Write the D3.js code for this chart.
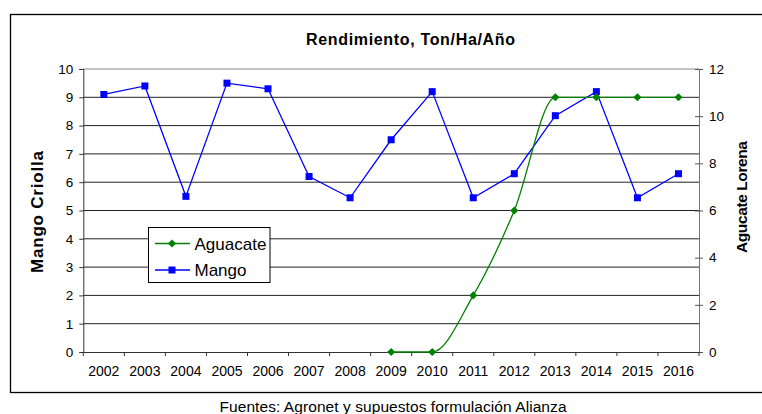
<!DOCTYPE html>
<html>
<head>
<meta charset="utf-8">
<script src="https://cdn.jsdelivr.net/npm/d3@7"></script>
<style>
  body { margin: 0; background: #fff; }
  text { font-family: "Liberation Sans", Arial, sans-serif; fill: #000; }
</style>
</head>
<body>
<script>
const years = ['2002','2003','2004','2005','2006','2007','2008','2009','2010','2011','2012','2013','2014','2015','2016']
const mango = [9.1, 9.4, 5.5, 9.5, 9.3, 6.2, 5.45, 7.5, 9.2, 5.45, 6.3, 8.35, 9.2, 5.45, 6.3]
const aguacate = [null, null, null, null, null, null, null, 0, 0, 2.4, 6, 10.8, 10.8, 10.8, 10.8]
const leftTicks = [0,1,2,3,4,5,6,7,8,9,10]
const rightTicks = [0,2,4,6,8,10,12]

const w = 762;
const h = 414;
const plotLeft = 83.3, plotRight = 699, plotTop = 69, plotBottom = 352;

const svg = d3.select("body")
  .append("svg")
  .attr("width", w)
  .attr("height", h);

// outer chart border (runs off the right edge like the original)
svg.append("rect")
  .attr("x", 10.5).attr("y", 14.5)
  .attr("width", 770).attr("height", 378)
  .attr("fill", "none")
  .attr("stroke", "#000")
  .attr("stroke-width", 1.3);

const xScale = d3.scaleBand().domain(years).range([plotLeft, plotRight]);
const yLeft = d3.scaleLinear().domain([0, 10]).range([plotBottom, plotTop]);
const yRight = d3.scaleLinear().domain([0, 12]).range([plotBottom, plotTop]);
const cx = (d) => xScale(d) + xScale.bandwidth() / 2;

// gridlines from the left axis
svg.append("g")
  .selectAll("line")
  .data(leftTicks.filter(d => d > 0))
  .enter()
  .append("line")
  .attr("x1", plotLeft).attr("x2", plotRight)
  .attr("y1", d => yLeft(d)).attr("y2", d => yLeft(d))
  .attr("stroke", d => d === 10 ? "#888" : "#222")
  .attr("stroke-width", 1);

// left axis
const gl = svg.append("g")
  .attr("transform", `translate(${plotLeft},0)`)
  .call(d3.axisLeft(yLeft).tickValues(leftTicks).tickSize(4).tickPadding(6));
gl.select(".domain").attr("stroke", "#333");
gl.selectAll(".tick line").attr("stroke", "#333");
gl.selectAll("text").style("font-size", "13.5px").attr("fill", "#000");

// right axis, ticks cross the line
const gr = svg.append("g")
  .attr("transform", `translate(${plotRight},0)`)
  .call(d3.axisRight(yRight).tickValues(rightTicks).tickSize(4).tickPadding(6));
gr.select(".domain").attr("stroke", "#777");
gr.selectAll(".tick line").attr("x1", -4).attr("stroke", "#555");
gr.selectAll("text").style("font-size", "13.5px").attr("fill", "#000");

// bottom axis: labels at centres, ticks between categories
const gx = svg.append("g")
  .attr("transform", `translate(0,${plotBottom})`)
  .call(d3.axisBottom(xScale).tickSize(0).tickPadding(14));
gx.select(".domain").attr("stroke", "#333");
gx.selectAll("text").style("font-size", "14px").attr("fill", "#000");
gx.selectAll(".bound")
  .data(years.map(d => xScale(d)).concat([plotRight]))
  .enter()
  .append("line")
  .attr("class", "bound")
  .attr("x1", d => d).attr("x2", d => d)
  .attr("y1", 0).attr("y2", 4)
  .attr("stroke", "#333");

// mango series
const mangoData = years.map((y, i) => [y, mango[i]]);
svg.append("path")
  .datum(mangoData)
  .attr("fill", "none")
  .attr("stroke", "#0000ff")
  .attr("stroke-width", 1.3)
  .attr("d", d3.line().x(d => cx(d[0])).y(d => yLeft(d[1])));

svg.selectAll(".sq")
  .data(mangoData)
  .enter()
  .append("rect")
  .attr("class", "sq")
  .attr("x", d => cx(d[0]) - 3.5)
  .attr("y", d => yLeft(d[1]) - 3.5)
  .attr("width", 7).attr("height", 7)
  .attr("fill", "#0000ff");

// aguacate series (smoothed line, no overshoot)
const aguaData = years.map((y, i) => [y, aguacate[i]]).filter(d => d[1] !== null);
svg.append("path")
  .datum(aguaData)
  .attr("fill", "none")
  .attr("stroke", "#008000")
  .attr("stroke-width", 1.3)
  .attr("d", d3.line().curve(d3.curveMonotoneX).x(d => cx(d[0])).y(d => yRight(d[1])));

const diamond = d3.symbol().type(d3.symbolDiamond2).size(42);
svg.selectAll(".dm")
  .data(aguaData)
  .enter()
  .append("path")
  .attr("class", "dm")
  .attr("transform", d => `translate(${cx(d[0])},${yRight(d[1])})`)
  .attr("d", diamond)
  .attr("fill", "#008000");

// titles
svg.append("text")
  .attr("x", 410.5).attr("y", 44.5)
  .attr("text-anchor", "middle")
  .style("font-size", "16px").style("font-weight", "bold")
  .attr("textLength", 209)
  .text("Rendimiento, Ton/Ha/Año");

svg.append("text")
  .attr("text-anchor", "middle")
  .attr("transform", "translate(43,212)rotate(-90)")
  .style("font-size", "17px").style("font-weight", "bold")
  .attr("textLength", 122)
  .text("Mango Criolla");

svg.append("text")
  .attr("text-anchor", "middle")
  .attr("transform", "translate(747,197)rotate(-90)")
  .style("font-size", "15.5px").style("font-weight", "bold")
  .attr("textLength", 112)
  .text("Agucate Lorena");

svg.append("text")
  .attr("x", 393).attr("y", 412)
  .attr("text-anchor", "middle")
  .style("font-size", "15.5px")
  .attr("textLength", 347)
  .text("Fuentes: Agronet y supuestos formulación Alianza");

// legend
const legend = svg.append("g").attr("transform", "translate(148.5,227.5)");
legend.append("rect")
  .attr("width", 121.5).attr("height", 55)
  .attr("fill", "#fff")
  .attr("stroke", "#000")
  .attr("stroke-width", 1);

const legendItems = [
  { name: "Aguacate", color: "#008000", y: 16, mark: "dm" },
  { name: "Mango", color: "#0000ff", y: 42.5, mark: "sq" }
];
legendItems.forEach(item => {
  legend.append("line")
    .attr("x1", 6.5).attr("x2", 41.5)
    .attr("y1", item.y).attr("y2", item.y)
    .attr("stroke", item.color).attr("stroke-width", 1.3);
  if (item.mark === "dm") {
    legend.append("path")
      .attr("transform", `translate(23.5,${item.y})`)
      .attr("d", diamond)
      .attr("fill", item.color);
  } else {
    legend.append("rect")
      .attr("x", 20).attr("y", item.y - 3.5)
      .attr("width", 7).attr("height", 7)
      .attr("fill", item.color);
  }
  legend.append("text")
    .attr("x", 46).attr("y", item.y + 6)
    .style("font-size", "17px")
    .text(item.name);
});
</script>
</body>
</html>
